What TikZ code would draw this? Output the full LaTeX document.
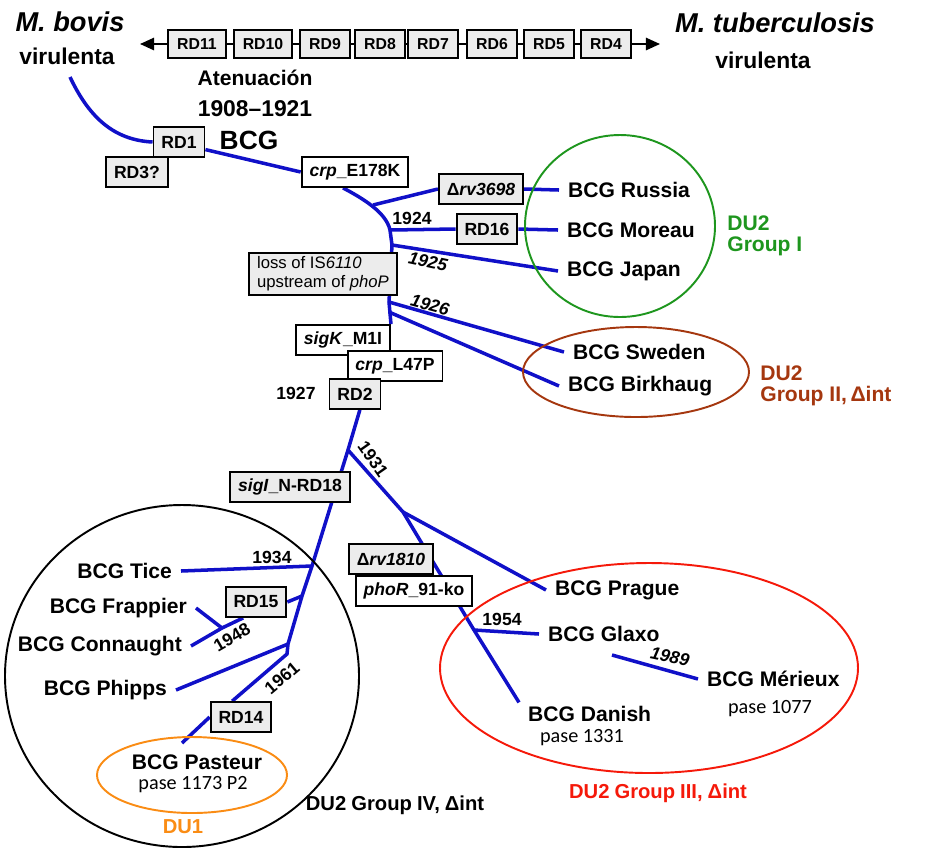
\documentclass[tikz,border=0pt]{standalone}
\usepackage{fontspec}
\setmainfont{Liberation Sans}
\newfontfamily\pasefont{Carlito}
\usetikzlibrary{arrows.meta,backgrounds}
\definecolor{lineblue}{RGB}{16,16,200}
\definecolor{boxgray}{RGB}{236,236,236}
\definecolor{groupgreen}{RGB}{30,150,30}
\definecolor{groupbrown}{RGB}{165,55,15}
\definecolor{groupred}{RGB}{245,25,10}
\definecolor{duorange}{RGB}{250,140,20}

\begin{document}
\begin{tikzpicture}[x=0.02cm,y=-0.02cm,
  tag/.style={draw,line width=1.1pt,fill=white,font=\bfseries\fontsize{10}{12}\selectfont,inner xsep=4.5pt,inner ysep=0pt,minimum height=17pt},
  graytag/.style={tag,fill=boxgray},
  rdtag/.style={graytag,font=\bfseries\fontsize{9}{11}\selectfont,inner xsep=5pt,minimum height=16pt},
  strain/.style={font=\bfseries\fontsize{12}{14}\selectfont,inner xsep=5pt,inner ysep=2pt},
  pase/.style={font=\pasefont\fontsize{11.5}{13}\selectfont,inner sep=1pt},
  year/.style={font=\bfseries\fontsize{10}{12}\selectfont,inner sep=1pt},
  yearit/.style={year,font=\bfseries\itshape\fontsize{10}{12}\selectfont},
  grouplabel/.style={font=\bfseries\fontsize{11.5}{12.5}\selectfont,inner sep=0pt},
  branch/.style={draw=lineblue,line width=2pt},
  chain/.style={draw,line width=1.1pt},
  hull/.style={line width=1.1pt}]
\useasboundingbox (0,0) rectangle (932,860);

\node[font=\bfseries\itshape\fontsize{15.5}{18}\selectfont] (bovis) at (70,22) {M. bovis};
\node[font=\bfseries\fontsize{13}{15}\selectfont] (virbovis) at (67,56) {virulenta};
\node[font=\bfseries\itshape\fontsize{15.5}{18}\selectfont] (mtb) at (775,23) {M. tuberculosis};
\node[font=\bfseries\fontsize{13}{15}\selectfont] (virmtb) at (763,60) {virulenta};
\foreach \n/\x in {11/197,10/263,9/325,8/380,7/433,6/492,5/549,4/606}
  \node[rdtag] (rd\n) at (\x,44) {RD\n};
\foreach \a/\b in {11/10,10/9,9/8,8/7,7/6,6/5,5/4}
  \draw[chain] (rd\a) -- (rd\b);
\coordinate (tipL) at (140,44);
\coordinate (tipR) at (660,44);
\draw[chain,-{Triangle[length=8pt,width=7pt]}] (rd11) -- (tipL);
\draw[chain,-{Triangle[length=8pt,width=7pt]}] (rd4) -- (tipR);
\node[font=\bfseries\fontsize{12}{14}\selectfont] (aten) at (255,78) {Atenuación};
\node[font=\bfseries\fontsize{13}{15}\selectfont] (period) at (255,109) {1908–1921};
\node[font=\bfseries\fontsize{15}{18}\selectfont] (bcg) at (249,140) {BCG};

\node[graytag] (rd3) at (137,172) {RD3?};
\node[graytag] (rd1) at (179,142) {RD1};
\node[tag] (crpE) at (355,172) {\textit{crp}\_E178K};
\node[graytag] (d3698) at (481,189) {Δ\textit{rv3698}};
\node[graytag] (rd16) at (487,229) {RD16};
\node[graytag,font=\fontsize{9.5}{11}\selectfont,align=left,inner ysep=2pt] (loss) at (323,274) {loss of IS\textit{6110}\\upstream of \textit{phoP}};
\node[tag] (sigK) at (343,340) {\textit{sigK}\_M1I};
\node[tag] (crpL) at (395,366) {\textit{crp}\_L47P};
\node[graytag] (rd2) at (355,394) {RD2};
\node[graytag] (sigI) at (290,487) {\textit{sigI}\_N-RD18};
\node[graytag] (d1810) at (391,559) {Δ\textit{rv1810}};
\node[tag] (phoR) at (414,591) {\textit{phoR}\_91-ko};
\node[graytag] (rd15) at (256,602) {RD15};
\node[graytag] (rd14) at (241,717) {RD14};

\node[strain,anchor=west] (russia) at (559,190) {BCG Russia};
\node[strain,anchor=west] (moreau) at (558,230) {BCG Moreau};
\node[strain,anchor=west] (japan) at (558,271) {BCG Japan};
\node[strain,anchor=west] (sweden) at (564,352) {BCG Sweden};
\node[strain,anchor=west] (birkhaug) at (559,386) {BCG Birkhaug};
\node[strain,anchor=west] (prague) at (546,590) {BCG Prague};
\node[strain,anchor=west] (glaxo) at (539,634) {BCG Glaxo};
\node[strain,anchor=west] (merieux) at (698,679) {BCG Mérieux};
\node[strain,anchor=west] (danish) at (519,714) {BCG Danish};
\node[strain] (pasteur) at (197,762) {BCG Pasteur};
\node[strain,anchor=east] (tice) at (181,571) {BCG Tice};
\node[strain,anchor=east] (frappier) at (196,608) {BCG Frappier};
\node[strain,anchor=east] (connaught) at (191,646) {BCG Connaught};
\node[strain,anchor=east] (phipps) at (176,690) {BCG Phipps};
\node[pase] (pase1077) at (770,709) {pase 1077};
\node[pase] (pase1331) at (582,738) {pase 1331};
\node[pase] (pase1173) at (193,785) {pase 1173 P2};

\node[year] (y24) at (412,218) {1924};
\node[yearit,rotate=-12] (y25) at (428,262) {1925};
\node[yearit,rotate=-15] (y26) at (430,305) {1926};
\node[year] (y27) at (296,393) {1927};
\node[year,rotate=-55] (y31) at (373,459) {1931};
\node[year] (y34) at (272,557) {1934};
\node[year,rotate=30] (y48) at (232,637) {1948};
\node[year,rotate=40] (y61) at (282,678) {1961};
\node[year] (y54) at (502,619) {1954};
\node[yearit,rotate=-12] (y89) at (670,657) {1989};

\coordinate (root) at (70,77);
\coordinate (bR) at (373,205);
\coordinate (b24) at (390,230);
\coordinate (b25) at (392,245);
\coordinate (b26) at (389,302);
\coordinate (b26b) at (389,312);
\coordinate (b31) at (348,450);
\coordinate (b31b) at (403,512);
\coordinate (j54) at (474,630);
\coordinate (b34) at (312,566);
\coordinate (b15) at (302,596);
\coordinate (j48) at (222,628);
\coordinate (b61) at (288,644);
\coordinate (b14) at (287,654);
\coordinate (pe) at (182,743);
\coordinate (g89) at (612,655);

\begin{scope}[on background layer]
\draw[branch] (root) .. controls (88,115) and (112,140) .. (rd1.west);
\draw[branch] (rd1.-16) -- (crpE.west);
\draw[branch] (crpE.233) .. controls (362,198) and (386,212) .. (b24) -- (b25) -- (b26) -- (sigK.north east);
\draw[branch] (bR) -- (d3698.west);
\draw[branch] (d3698.east) -- (russia.west);
\draw[branch] (b24) -- (rd16.west);
\draw[branch] (rd16.east) -- (moreau.west);
\draw[branch] (b25) -- (japan.west);
\draw[branch] (b26) -- (sweden.west);
\draw[branch] (b26b) -- (birkhaug.west);
\draw[branch] (rd2.-73) -- (b31) -- (b34) -- (b15) -- (b61) -- (b14) -- (rd14.119);
\draw[branch] (b34) -- (tice.east);
\draw[branch] (b15) -- (rd15.east);
\draw[branch] (rd15.231) -- (j48) -- (connaught.east);
\draw[branch] (frappier.east) -- (j48);
\draw[branch] (b61) -- (phipps.east);
\draw[branch] (rd14.west) -- (pe);
\draw[branch] (b31) -- (b31b) -- (j54) -- (danish.north west);
\draw[branch] (b31b) -- (prague.west);
\draw[branch] (j54) -- (glaxo.west);
\draw[branch] (g89) -- (merieux.west);
\end{scope}

\draw[groupgreen,hull] (620,226) ellipse [x radius=95,y radius=91];
\draw[groupbrown,hull] (636,372) ellipse [x radius=113,y radius=45];
\draw[groupred,hull] (649,668) ellipse [x radius=209,y radius=105];
\draw[black,hull] (182,676) ellipse [x radius=177,y radius=171];
\draw[duorange,hull] (192,775) ellipse [x radius=95,y radius=38];

\node[grouplabel,text=groupgreen,align=left,anchor=west,font=\bfseries\fontsize{12}{12}\selectfont] (du2i) at (727,236) {DU2\\Group I};
\node[grouplabel,text=groupbrown,align=left,anchor=west,font=\bfseries\fontsize{12}{12}\selectfont] (du2ii) at (760,386) {DU2\\Group II,\kern2pt Δint};
\node[grouplabel,text=groupred] (du2iii) at (658,793) {\spaceskip=0.25em DU2 Group III, Δint};
\node[grouplabel] (du2iv) at (395,805) {\spaceskip=0.25em DU2 Group IV, Δint};
\node[grouplabel,text=duorange] (du1) at (183,827) {DU1};
\end{tikzpicture}
\end{document}
